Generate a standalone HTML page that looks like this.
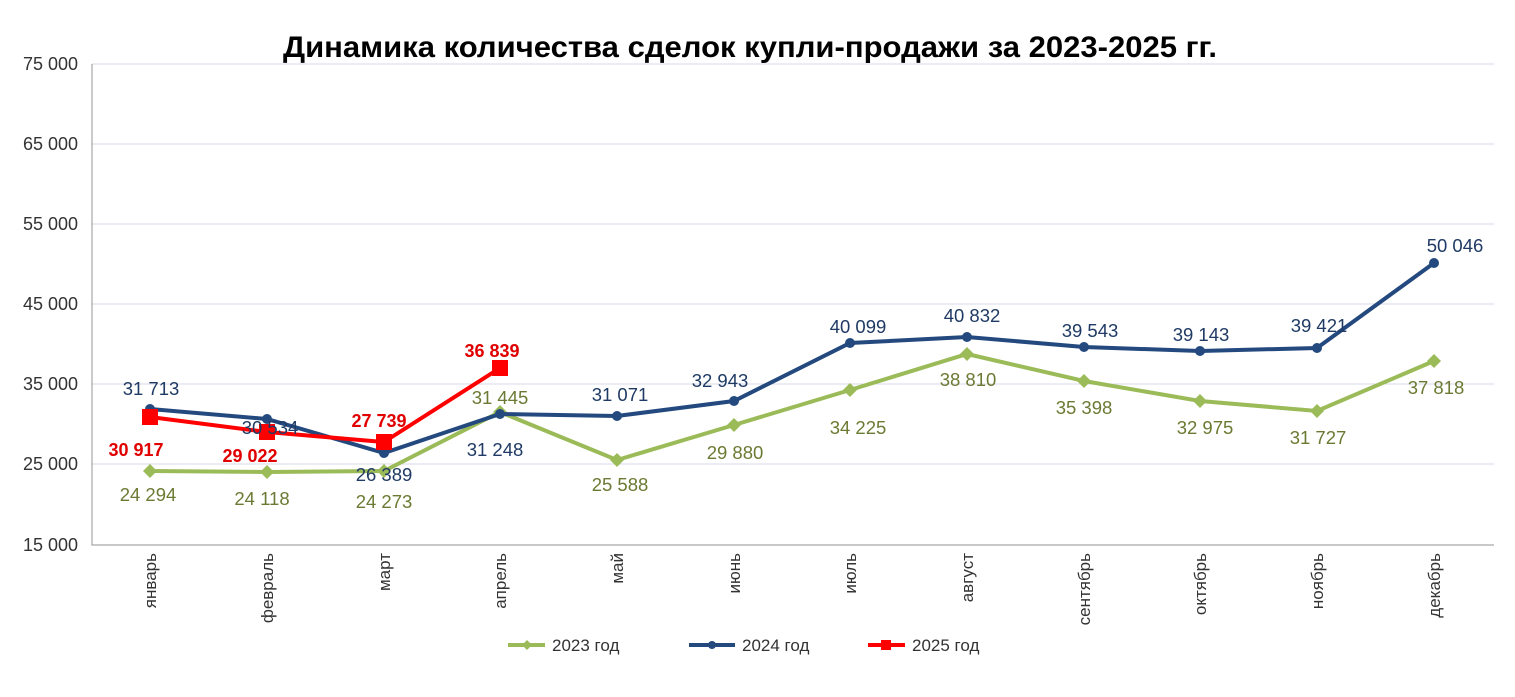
<!DOCTYPE html>
<html><head><meta charset="utf-8"><style>
body{margin:0;background:#fff}
svg text{font-family:"Liberation Sans",Arial,sans-serif}
</style></head><body>
<svg width="1515" height="692" xmlns="http://www.w3.org/2000/svg">
<text x="750" y="57" font-size="30" font-weight="bold" text-anchor="middle" fill="#000" textLength="934" lengthAdjust="spacingAndGlyphs">Динамика количества сделок купли-продажи за 2023-2025 гг.</text>
<g stroke="#d9d9e8" stroke-width="1">
<line x1="92" y1="64" x2="1494" y2="64"/><line x1="92" y1="144" x2="1494" y2="144"/><line x1="92" y1="224" x2="1494" y2="224"/><line x1="92" y1="304" x2="1494" y2="304"/><line x1="92" y1="384" x2="1494" y2="384"/><line x1="92" y1="464" x2="1494" y2="464"/>
</g>
<path d="M92 64 V545 H1494" fill="none" stroke="#a6a6a6" stroke-width="1.2"/>
<g font-size="18" fill="#333" text-anchor="end">
<text x="78" y="70">75 000</text><text x="78" y="150">65 000</text><text x="78" y="230">55 000</text><text x="78" y="310">45 000</text><text x="78" y="390">35 000</text><text x="78" y="470">25 000</text><text x="78" y="551">15 000</text>
</g>
<g font-size="17" fill="#333" text-anchor="end">
<text transform="translate(156,553) rotate(-90)">январь</text>
<text transform="translate(273,553) rotate(-90)">февраль</text>
<text transform="translate(390,553) rotate(-90)">март</text>
<text transform="translate(506,553) rotate(-90)">апрель</text>
<text transform="translate(623,553) rotate(-90)">май</text>
<text transform="translate(740,553) rotate(-90)">июнь</text>
<text transform="translate(856,553) rotate(-90)">июль</text>
<text transform="translate(973,553) rotate(-90)">август</text>
<text transform="translate(1090,553) rotate(-90)">сентябрь</text>
<text transform="translate(1206,553) rotate(-90)">октябрь</text>
<text transform="translate(1323,553) rotate(-90)">ноябрь</text>
<text transform="translate(1440,553) rotate(-90)">декабрь</text>
</g>
<polyline fill="none" stroke="#9bbb59" stroke-width="4" points="150,471 267,472 384,471 500,412 617,460 734,425 850,390 967,354 1084,381 1200,401 1317,411 1434,361"/>
<g fill="#9bbb59">
<path d="M150 464l7 7-7 7-7-7z"/><path d="M267 465l7 7-7 7-7-7z"/><path d="M384 464l7 7-7 7-7-7z"/><path d="M500 405l7 7-7 7-7-7z"/><path d="M617 453l7 7-7 7-7-7z"/><path d="M734 418l7 7-7 7-7-7z"/><path d="M850 383l7 7-7 7-7-7z"/><path d="M967 347l7 7-7 7-7-7z"/><path d="M1084 374l7 7-7 7-7-7z"/><path d="M1200 394l7 7-7 7-7-7z"/><path d="M1317 404l7 7-7 7-7-7z"/><path d="M1434 354l7 7-7 7-7-7z"/>
</g>
<polyline fill="none" stroke="#23497e" stroke-width="4" points="150,409 267,419 384,453 500,414 617,416 734,401 850,343 967,337 1084,347 1200,351 1317,348 1434,263"/>
<g fill="#23497e">
<circle cx="150" cy="409" r="5"/><circle cx="267" cy="419" r="5"/><circle cx="384" cy="453" r="5"/><circle cx="500" cy="414" r="5"/><circle cx="617" cy="416" r="5"/><circle cx="734" cy="401" r="5"/><circle cx="850" cy="343" r="5"/><circle cx="967" cy="337" r="5"/><circle cx="1084" cy="347" r="5"/><circle cx="1200" cy="351" r="5"/><circle cx="1317" cy="348" r="5"/><circle cx="1434" cy="263" r="5"/>
</g>
<polyline fill="none" stroke="#ff0000" stroke-width="4" points="150,417 267,432 384,442 500,368"/>
<g fill="#ff0000">
<rect x="142" y="409" width="16" height="16"/><rect x="259" y="424" width="16" height="16"/><rect x="376" y="434" width="16" height="16"/><rect x="492" y="360" width="16" height="16"/>
</g>
<g font-size="18.5" fill="#1f3a64" text-anchor="middle">
<text x="151" y="395">31 713</text><text x="270" y="434">30 534</text><text x="384" y="481">26 389</text><text x="495" y="456">31 248</text><text x="620" y="401">31 071</text><text x="720" y="387">32 943</text><text x="858" y="333">40 099</text><text x="972" y="322">40 832</text><text x="1090" y="337">39 543</text><text x="1201" y="341">39 143</text><text x="1319" y="332">39 421</text><text x="1455" y="252">50 046</text>
</g>
<g font-size="18.5" fill="#6b7a33" text-anchor="middle">
<text x="148" y="501">24 294</text><text x="262" y="505">24 118</text><text x="384" y="508">24 273</text><text x="500" y="404">31 445</text><text x="620" y="491">25 588</text><text x="735" y="459">29 880</text><text x="858" y="434">34 225</text><text x="968" y="386">38 810</text><text x="1084" y="414">35 398</text><text x="1205" y="434">32 975</text><text x="1318" y="444">31 727</text><text x="1436" y="394">37 818</text>
</g>
<g font-size="18" fill="#e00000" font-weight="bold" text-anchor="middle">
<text x="136" y="456">30 917</text><text x="250" y="462">29 022</text><text x="379" y="427">27 739</text><text x="492" y="357">36 839</text>
</g>
<g font-size="17" fill="#333">
<line x1="508" y1="645" x2="545" y2="645" stroke="#9bbb59" stroke-width="4"/><path d="M527 640l5 5-5 5-5-5z" fill="#9bbb59"/>
<text x="552" y="651">2023 год</text>
<line x1="689" y1="645" x2="735" y2="645" stroke="#23497e" stroke-width="4"/><circle cx="712" cy="645" r="4" fill="#23497e"/>
<text x="742" y="651">2024 год</text>
<line x1="868" y1="645" x2="905" y2="645" stroke="#ff0000" stroke-width="4"/><rect x="881" y="640" width="10" height="10" fill="#ff0000"/>
<text x="912" y="651">2025 год</text>
</g>
</svg>
</body></html>
